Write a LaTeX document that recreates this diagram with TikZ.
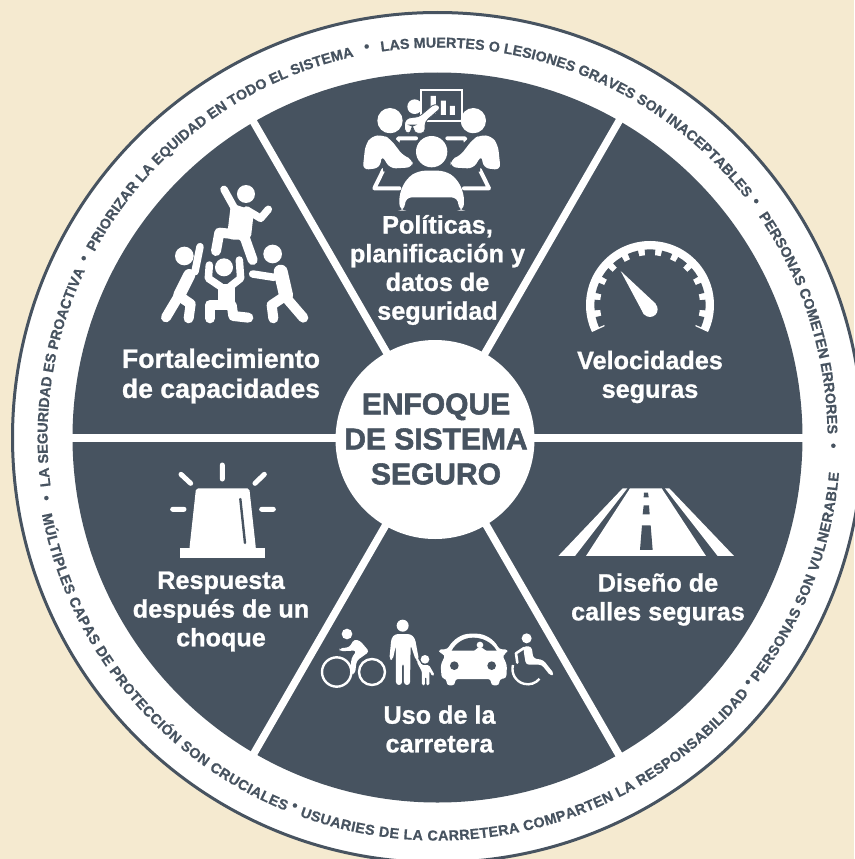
\documentclass[tikz,border=0pt]{standalone}
\usepackage{fontspec}
\usetikzlibrary{decorations.text}
\setmainfont{Liberation Sans}
\newfontfamily\labf{Liberation Sans}[UprightFont=* Bold,UprightFeatures={FakeBold=1}]
\newfontfamily\titf{Liberation Sans}[UprightFont=* Bold,UprightFeatures={FakeBold=1.8}]
\newfontfamily\ringf{Liberation Sans}[UprightFont=* Bold,UprightFeatures={FakeBold=0.6}]
\definecolor{ink}{HTML}{475360}
\definecolor{cream}{HTML}{F5EAD0}
\tikzset{
  zm/.style 2 args={shift={(#1pt,-#2pt)},x=.3333pt,y=-.3333pt},
  labelnode/.style={align=center,text=white,inner sep=0pt,font=\labf\fontsize{25.2}{28.7}\selectfont},
  widelabel/.style={align=center,text=white,inner sep=0pt,font=\labf\fontsize{26.6}{30}\selectfont},
  titlenode/.style={align=center,text=ink,inner sep=0pt,font=\titf\fontsize{30}{35}\selectfont},
  bullet/.style={text=ink,inner sep=0pt,font=\ringf\fontsize{15}{15}\selectfont},
  spoke/.style={white,line width=7.5pt},
  wl/.style={white,line cap=round,line join=round},
  ic/.style={fill=white,draw=none},
  ringtop/.style={decorate,decoration={text along path,text align={fit to path},text={|\ringf\fontsize{14.4}{14.4}\selectfont\color{ink}|#1}}},
}
\newcommand{\topring}[3]{\path[ringtop={#3}] (#1:390pt) arc[start angle=#1,end angle=#2,radius=390pt];}
\newcommand{\botring}[3]{\path[ringtop={#3}] (#1:403pt) arc[start angle=#1,end angle=#2,radius=403pt];}
\begin{document}
\begin{tikzpicture}[x=1pt,y=-1pt]
\useasboundingbox (0,0) rectangle (854,859);
\fill[cream] (0,0) rectangle (854,859);
\coordinate (c) at (437.5,437.5);
\coordinate (h) at (436,438);
\fill[white,draw=ink,line width=3pt] (c) circle[radius=425];
\fill[ink] (c) circle[radius=365];
\foreach \a in {0,60,...,300}{\draw[spoke] (h) -- ++(\a:370);}
\node[circle,fill=white,minimum size=199pt,inner sep=0pt] (hub) at (435,439.5) {};
\node[titlenode] (title) at (436,439) {ENFOQUE\\DE SISTEMA\\SEGURO};

% labels
\node[labelnode] (l1) at (437.5,270) {Políticas,\\planificación y\\datos de\\seguridad};
\node[labelnode] (l2) at (650,377) {Velocidades\\seguras};
\node[labelnode] (l3) at (658,599.5) {Diseño de\\calles seguras};
\node[labelnode] (l4) at (439.5,729) {Uso de la\\carretera};
\node[labelnode] (l5) at (221,611.5) {Respuesta\\después de un\\choque};
\node[widelabel] (l6) at (221,376) {Fortalecimiento\\de capacidades};

% ring text
\begin{scope}[shift={(437.5pt,-437.5pt)},x=1pt,y=1pt]
\topring{187.2}{155}{LA SEGURIDAD ES PROACTIVA}
\topring{151.6}{102.4}{PRIORIZAR LA EQUIDAD EN TODO EL SISTEMA}
\topring{98.3}{38}{LAS MUERTES O LESIONES GRAVES SON INACEPTABLES}
\topring{34.6}{0.7}{PERSONAS COMETEN ERRORES}
\botring{191}{247.8}{MÚLTIPLES CAPAS DE PROTECCIÓN SON CRUCIALES}
\botring{250}{320.5}{USUARIES DE LA CARRETERA COMPARTEN LA RESPONSABILIDAD}
\botring{322.6}{355}{PERSONAS SON VULNERABLE}
\foreach \n/\a in {b1/153.3,b2/100.3,b3/36.4,b4/-1.4,b5/321.6,b6/248.9,b7/189}{
  \node[bullet] (\n) at (\a:396pt) {•};}
\end{scope}

% meeting icon
\begin{scope}[zm={340}{80}]
\draw[white,line width=1.8pt] (243,31) rectangle (367,122);
\fill[white] (272,48) rectangle (288,100) (303,62) rectangle (318,105) (330,78) rectangle (345,105);
\fill[ic] (224,80) circle[radius=22];
\fill[ic,draw=ink,line width=.8pt,rounded corners=4pt] (195,160) -- (192,125) -- (205,112) -- (235,112) -- (285,70) -- (305,82) -- (255,125) -- (255,160) -- (222,160) -- (220,135) -- (214,135) -- (214,160) -- cycle;
\draw[wl,line width=4pt] (168,205) -- (175,175) -- (228,175) (322,175) -- (375,175) -- (382,205);
\draw[wl,line width=4pt] (130,270) -- (103,325) -- (178,325) (420,270) -- (447,325) -- (372,325);
\foreach \s in {1,-1}{
 \begin{scope}[xshift={(\s==1?0:550)*.3333pt},xscale=\s]
 \fill[ic] (150,122) circle[radius=38];
 \fill[ink] (120,165) -- (150,160) -- (240,250) -- (225,280) -- (130,275) -- cycle;
 \fill[ic,rounded corners=6pt] (68,270) -- (76,195) -- (95,168) -- (130,165) -- (152,178) -- (190,228) -- (218,238) -- (218,262) -- (150,266) -- (125,225) -- (120,264) -- cycle;
 \end{scope}}
\fill[ink] (275,215) circle[radius=55];
\fill[ic] (275,215) circle[radius=47];
\fill[ic,rounded corners=7pt] (178,392) -- (178,340) -- (200,295) -- (235,272) -- (315,272) -- (350,295) -- (372,340) -- (372,392) -- (355,392) -- (355,352) -- (195,352) -- (195,392) -- cycle;
\end{scope}

% gauge icon
\begin{scope}[shift={(570pt,-230pt)},shift={(80pt,-75pt)},x=.3333pt,y=.3333pt]
\fill[ic] (205:192) arc[start angle=205,end angle=-25,radius=192] -- (-25:150) arc[start angle=-25,end angle=205,radius=150] -- cycle;
\foreach \a in {-18,0,...,198}{
 \fill[ink] (\a-5.5:148) -- (\a-5.5:167) arc[start angle=\a-5.5,end angle=\a+5.5,radius=167] -- (\a+5.5:148) -- cycle;}
\end{scope}
\begin{scope}[zm={570}{230}]
\fill[ic] (240,238) circle[radius=23];
\fill[ic] (152,123) -- (258,222) -- (222,254) -- cycle;
\end{scope}

% team icon
\begin{scope}[zm={150}{170}]
\fill[ic] (288,72) circle[radius=27];
\draw[wl,line width=7.5pt] (222,58) -- (252,112);
\draw[wl,line width=7.5pt] (290,120) -- (332,145) -- (355,118);
\fill[ic,rounded corners=5pt] (243,100) -- (312,122) -- (302,210) -- (230,208) -- cycle;
\draw[wl,line width=10pt] (250,192) -- (208,188) -- (198,243);
\draw[wl,line width=10pt] (275,195) -- (285,205) -- (308,270);
\fill[ic] (103,258) circle[radius=28];
\draw[wl,line width=7.5pt] (150,230) -- (135,305);
\draw[wl,line width=12pt] (118,315) -- (88,375);
\draw[wl,line width=10pt] (88,375) -- (48,442);
\draw[wl,line width=10pt] (90,380) -- (122,402) -- (116,445);
\fill[ic] (222,292) circle[radius=27];
\draw[wl,line width=7.5pt] (178,285) -- (175,325) -- (212,350);
\draw[wl,line width=7.5pt] (268,270) -- (272,325) -- (240,350);
\fill[ic] (203,342) rectangle (254,410);
\draw[wl,line width=10pt] (180,445) -- (180,405) -- (235,405);
\draw[wl,line width=10pt] (245,405) -- (250,438) -- (295,443);
\fill[ic] (368,252) circle[radius=28];
\draw[wl,line width=7.5pt] (308,312) -- (372,322);
\draw[wl,line width=14pt] (392,305) -- (408,375);
\draw[wl,line width=10pt] (395,385) -- (365,405) -- (370,445);
\draw[wl,line width=10pt] (410,385) -- (460,443);
\end{scope}

% beacon icon
\begin{scope}[zm={150}{450}]
\draw[wl,line width=5pt] (217,45) -- (217,87) (93,73) -- (122,100) (343,73) -- (315,100) (68,178) -- (102,178) (335,178) -- (370,178);
\fill[ic,rounded corners=2pt] (138,115) -- (298,115) -- (318,298) -- (118,298) -- cycle;
\fill[ic] (90,295) rectangle (345,323);
\draw[ink,line width=2.4pt,line cap=round] (271,147) -- (285,279);
\end{scope}

% road icon
\begin{scope}[zm={550}{480}]
\fill[ic] (218,25) -- (232,25) -- (75,228) -- (25,228) -- cycle;
\fill[ic] (345,25) -- (358,25) -- (552,228) -- (503,228) -- cycle;
\fill[ic] (240,25) -- (335,25) -- (468,228) -- (108,228) -- cycle;
\fill[ink] (282,38) -- (294,38) -- (296,52) -- (281,52) -- cycle;
\fill[ink] (281,76) -- (297,76) -- (299,103) -- (278,103) -- cycle;
\fill[ink] (276,136) -- (302,136) -- (308,210) -- (270,210) -- cycle;
\end{scope}

% road users icon
\begin{scope}[zm={310}{610}]
% bike
\draw[white,line width=2.4pt] (80,186) circle[radius=44] (186,186) circle[radius=39];
\fill[ic] (111,72) circle[radius=16];
\fill[ic,rounded corners=3pt] (88,115) -- (118,112) -- (132,88) -- (150,92) -- (178,125) -- (140,152) -- (135,192) -- (122,192) -- (124,145) -- (140,122) -- (125,122) -- (90,124) -- cycle;
% man
\fill[ic] (278,47) circle[radius=18];
\fill[ic,rounded corners=3pt] (255,72) -- (302,72) -- (315,85) -- (327,150) -- (318,152) -- (302,105) -- (300,225) -- (282,225) -- (282,160) -- (276,160) -- (276,225) -- (258,225) -- (258,105) -- (248,150) -- (238,148) -- (244,85) -- cycle;
\draw[wl,line width=2pt] (322,148) -- (335,170);
% child
\fill[ic] (345,148) circle[radius=13];
\fill[ic,rounded corners=1.5pt] (335,165) -- (357,165) -- (374,195) -- (367,199) -- (358,182) -- (358,226) -- (349,226) -- (349,200) -- (345,200) -- (345,226) -- (336,226) -- (336,185) -- (320,155) -- (326,150) -- cycle;
% car
\fill[ic,rounded corners=3pt] (385,118) -- (412,118) .. controls (430,88) and (455,71) .. (490,71) .. controls (525,71) and (552,88) .. (568,118) -- (594,118) -- (590,130) -- (577,135) -- (591,165) -- (589,205) -- (568,207) -- (568,226) -- (543,226) -- (543,207) -- (435,207) -- (435,226) -- (410,226) -- (410,207) -- (395,205) -- (392,165) -- (406,135) -- (390,130) -- cycle;
\fill[ink] (425,122) .. controls (440,95) and (465,83) .. (490,83) .. controls (515,83) and (545,95) .. (560,122) -- cycle;
\fill[ic] (510,105) circle[radius=10];
\fill[ic] (492,123) -- (503,114) -- (517,114) -- (530,123) -- cycle;
\fill[ink] (433,167) circle[radius=13] (545,167) circle[radius=13];
% wheelchair
\fill[ic] (650,85) circle[radius=15];
\fill[ic,rounded corners=3pt] (640,108) -- (665,110) -- (670,145) -- (700,150) -- (733,192) -- (722,198) -- (695,164) -- (648,164) -- (642,130) -- cycle;
\draw[wl,line width=2.6pt] (642,114) -- (618,130) -- (622,158);
\draw[white,line width=2.4pt] (609,165) arc[start angle=195,end angle=40,radius=46];
\end{scope}
\end{tikzpicture}
\end{document}
